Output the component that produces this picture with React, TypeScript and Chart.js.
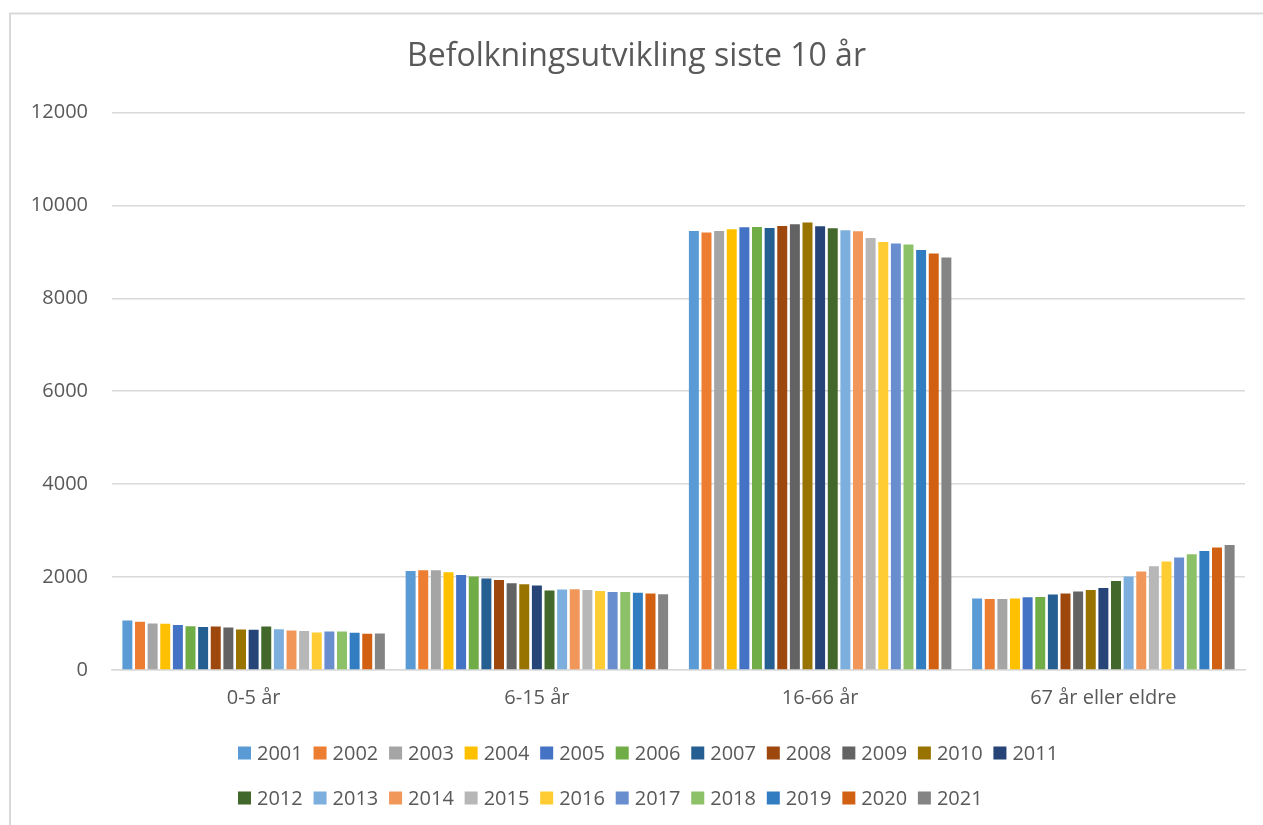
import React, { useEffect, useRef } from "react";
import { Chart, registerables } from "chart.js";

Chart.register(...registerables);

const categories = ["0-5 år", "6-15 år", "16-66 år", "67 år eller eldre"];
const years = [
  "2001", "2002", "2003", "2004", "2005", "2006", "2007", "2008", "2009", "2010", "2011",
  "2012", "2013", "2014", "2015", "2016", "2017", "2018", "2019", "2020", "2021",
];
const age0to5 = [1065, 1036, 1000, 993, 971, 942, 928, 935, 914, 871, 864, 935, 878, 849, 842, 806, 828, 828, 799, 778, 785];
const age6to15 = [2133, 2146, 2146, 2103, 2046, 2010, 1967, 1939, 1866, 1845, 1817, 1709, 1731, 1738, 1724, 1702, 1681, 1681, 1660, 1645, 1630];
const age16to66 = [9449, 9413, 9449, 9486, 9528, 9535, 9514, 9557, 9593, 9628, 9550, 9507, 9464, 9442, 9299, 9213, 9177, 9155, 9041, 8961, 8875];
const age67plus = [1537, 1530, 1530, 1537, 1566, 1573, 1623, 1645, 1688, 1724, 1767, 1917, 2010, 2118, 2232, 2333, 2419, 2490, 2562, 2634, 2691];
const colors = [
  "#5B9BD5", "#ED7D31", "#A5A5A5", "#FFC000", "#4472C4", "#70AD47", "#255E91", "#9E480E",
  "#636363", "#997300", "#264478", "#43682B", "#7CAFDD", "#F1975A", "#B7B7B7", "#FFCD33",
  "#698ED0", "#8CC168", "#327DC2", "#D26012", "#848484",
];
const yTicks = [0, 2000, 4000, 6000, 8000, 10000, 12000];

const TEXT = "#595959";
const GRID = "#d9d9d9";
const FONT = '"Open Sans", sans-serif';

const framePlugin = {
  id: "frame",
  beforeDraw(chart: any) {
    const ctx = chart.ctx;
    ctx.save();
    ctx.fillStyle = "#ffffff";
    ctx.fillRect(0, 0, chart.width, chart.height);
    ctx.strokeStyle = GRID;
    ctx.lineWidth = 2;
    ctx.beginPath();
    ctx.moveTo(10, chart.height);
    ctx.lineTo(10, 13.5);
    ctx.lineTo(chart.width, 13.5);
    ctx.stroke();
    ctx.restore();
  },
};

const legendPlugin = {
  id: "excelLegend",
  afterDraw(chart: any) {
    const ctx = chart.ctx;
    const perRow = 11;
    const rowY = [753, 798];
    const startX = 238;
    const box = 13;
    ctx.save();
    ctx.font = `20px ${FONT}`;
    ctx.textBaseline = "middle";
    ctx.textAlign = "left";
    let x = startX;
    chart.data.datasets.forEach((ds: any, i: number) => {
      if (i === perRow) x = startX;
      const y = rowY[i < perRow ? 0 : 1];
      ctx.fillStyle = ds.backgroundColor;
      ctx.fillRect(x, y - box / 2, box, box);
      ctx.fillStyle = TEXT;
      const tx = x + box + 6;
      ctx.fillText(ds.label, tx, y + 1);
      x = tx + ctx.measureText(ds.label).width + 10.8;
    });
    ctx.restore();
  },
};

export default function App() {
  const ref = useRef<HTMLCanvasElement | null>(null);

  useEffect(() => {
    if (!ref.current) return;
    const groups = [age0to5, age6to15, age16to66, age67plus];
    const datasets = years.map((year, i) => ({
      label: year,
      data: groups.map((g) => g[i]),
      backgroundColor: colors[i],
      borderWidth: 0,
      categoryPercentage: 0.936,
      barPercentage: 0.79,
    }));
    const chart = new Chart(ref.current, {
      type: "bar",
      data: { labels: categories, datasets },
      options: {
        animation: false,
        responsive: false,
        devicePixelRatio: 1,
        layout: { padding: { left: 28, right: 18, top: 0, bottom: 0 } },
        plugins: {
          legend: { display: false },
          tooltip: { enabled: false },
          title: {
            display: true,
            text: "Befolkningsutvikling siste 10 år",
            color: TEXT,
            font: { family: FONT, size: 32, weight: "normal" },
            padding: { top: 38, bottom: 36 },
          },
        },
        scales: {
          x: {
            grid: { display: false, drawTicks: false },
            border: { display: true, color: GRID, width: 1.5 },
            ticks: { color: TEXT, font: { family: FONT, size: 20 }, padding: 16 },
            afterFit: (s: any) => {
              s.height = 155;
            },
          },
          y: {
            min: 0,
            max: 12000,
            afterBuildTicks: (s: any) => {
              s.ticks = yTicks.map((v) => ({ value: v }));
            },
            grid: { color: GRID, lineWidth: 1.5, drawTicks: false },
            border: { display: false },
            ticks: {
              color: TEXT,
              font: { family: FONT, size: 20 },
              padding: 24,
              callback: (v: any) => String(v),
            },
            afterFit: (s: any) => {
              s.width = 84;
            },
          },
        },
      },
      plugins: [framePlugin, legendPlugin],
    });
    return () => chart.destroy();
  }, []);

  return (
    <div style={{ position: "absolute", left: 0, top: 0, width: 1263, height: 825, background: "#fff" }}>
      <canvas ref={ref} width={1263} height={825} style={{ display: "block", width: 1263, height: 825 }} />
    </div>
  );
}
